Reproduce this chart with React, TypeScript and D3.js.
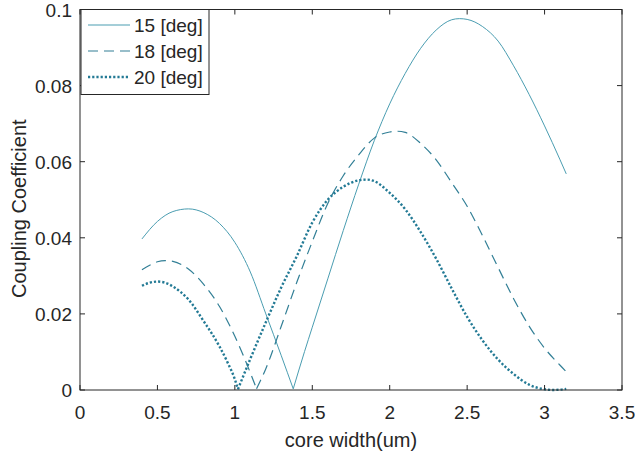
import * as d3 from 'd3'
import { useMemo } from 'react'

const W = 635
const H = 456
const margin = { left: 80, right: 13, top: 9.5, bottom: 66 }

const seriesNames = ['15 [deg]', '18 [deg]', '20 [deg]']

const x15 = [0.4, 0.5, 0.6, 0.7, 0.8, 0.9, 1.0, 1.1, 1.2, 1.3, 1.377, 1.45, 1.5, 1.6, 1.7, 1.8, 1.9, 2.0, 2.1, 2.2, 2.3, 2.4, 2.45, 2.5, 2.6, 2.7, 2.8, 2.9, 3.0, 3.1, 3.14]
const y15 = [0.0397, 0.0443, 0.0469, 0.0476, 0.0466, 0.0438, 0.0388, 0.031, 0.02, 0.009, 0.0003, 0.0101, 0.0165, 0.0292, 0.0419, 0.0541, 0.0655, 0.0752, 0.0832, 0.0898, 0.0946, 0.0973, 0.0976, 0.0974, 0.0955, 0.0917, 0.0852, 0.0777, 0.0694, 0.0605, 0.0568]

const x18 = [0.4, 0.45, 0.5, 0.55, 0.6, 0.7, 0.8, 0.9, 1.0, 1.1, 1.14, 1.2, 1.3, 1.4, 1.5, 1.6, 1.7, 1.8, 1.9, 2.0, 2.05, 2.1, 2.2, 2.3, 2.4, 2.5, 2.6, 2.7, 2.8, 2.9, 3.0, 3.1, 3.14]
const y18 = [0.0316, 0.0328, 0.0337, 0.034, 0.0338, 0.0318, 0.0277, 0.022, 0.0141, 0.0045, 0.0003, 0.0056, 0.0168, 0.0283, 0.039, 0.049, 0.0563, 0.0618, 0.0662, 0.0678, 0.068, 0.0677, 0.0648, 0.0605, 0.0545, 0.0483, 0.0405, 0.0322, 0.024, 0.0168, 0.011, 0.0065, 0.0048]

const x20 = [0.4, 0.45, 0.5, 0.55, 0.6, 0.7, 0.8, 0.9, 0.95, 1.0, 1.02, 1.1, 1.2, 1.3, 1.4, 1.5, 1.6, 1.7, 1.8, 1.85, 1.9, 2.0, 2.1, 2.2, 2.3, 2.4, 2.5, 2.6, 2.7, 2.8, 2.9, 3.0, 3.05, 3.1, 3.14]
const y20 = [0.0274, 0.0282, 0.0285, 0.0282, 0.0272, 0.0238, 0.018, 0.0115, 0.0075, 0.0028, 0.0002, 0.0082, 0.0178, 0.027, 0.0352, 0.044, 0.05, 0.0534, 0.0551, 0.0553, 0.0549, 0.0518, 0.0475, 0.0415, 0.0345, 0.0267, 0.0192, 0.013, 0.008, 0.0042, 0.0014, 0.0002, 0, 0.0001, 0.0003]

// x of the sharp minimum of each curve
const cusps = [1.377, 1.14, 1.02]

const xTicks = [0, 0.5, 1, 1.5, 2, 2.5, 3, 3.5]
const yTicks = [0, 0.02, 0.04, 0.06, 0.08, 0.1]

const styles = [
  { color: '#4a9db1', width: 1, dash: 'none' },
  { color: '#327f96', width: 1.2, dash: '10,6' },
  { color: '#237a95', width: 2.4, dash: '2.2,2' },
]

const axisColor = '#262626'
const font = 'Liberation Sans, Arial, sans-serif'

export default function App() {
  const x = d3.scaleLinear().domain([0, 3.5]).range([margin.left, W - margin.right])
  const y = d3.scaleLinear().domain([0, 0.1]).range([H - margin.bottom, margin.top])

  const paths = useMemo(() => {
    const line = d3
      .line<[number, number]>()
      .x(d => x(d[0]))
      .y(d => y(d[1]))
      .curve(d3.curveMonotoneX)
    const all = [
      [x15, y15],
      [x18, y18],
      [x20, y20],
    ]
    // split at the cusp so the V stays sharp
    return all.map(([xs, ys], i) => {
      const pts = xs.map((v, j) => [v, ys[j]] as [number, number])
      const k = xs.indexOf(cusps[i])
      return [line(pts.slice(0, k + 1)), line(pts.slice(k))]
    })
  }, [])

  const x0 = margin.left
  const x1 = W - margin.right
  const y0 = H - margin.bottom
  const y1 = margin.top
  const tickLen = 5

  return (
    <svg width={W} height={H} style={{ position: 'absolute', left: 0, top: 0, background: 'white' }}>
      <rect x={x0} y={y1} width={x1 - x0} height={y0 - y1} fill="white" />

      <g>
        {paths.map((p, i) =>
          p.map((d, j) => (
            <path
              key={i + '-' + j}
              d={d ?? ''}
              fill="none"
              stroke={styles[i].color}
              strokeWidth={styles[i].width}
              strokeDasharray={styles[i].dash}
            />
          ))
        )}
      </g>

      <g stroke={axisColor} strokeWidth={1}>
        <rect x={x0} y={y1} width={x1 - x0} height={y0 - y1} fill="none" />
        {xTicks.map(t => (
          <g key={'xt' + t}>
            <line x1={x(t)} x2={x(t)} y1={y0} y2={y0 - tickLen} />
            <line x1={x(t)} x2={x(t)} y1={y1} y2={y1 + tickLen} />
          </g>
        ))}
        {yTicks.map(t => (
          <g key={'yt' + t}>
            <line x1={x0} x2={x0 + tickLen} y1={y(t)} y2={y(t)} />
            <line x1={x1} x2={x1 - tickLen} y1={y(t)} y2={y(t)} />
          </g>
        ))}
      </g>

      <g fill={axisColor} fontFamily={font} fontSize={19}>
        {xTicks.map(t => (
          <text key={'xl' + t} x={x(t)} y={y0 + 29} textAnchor="middle">
            {String(t)}
          </text>
        ))}
        {yTicks.map(t => (
          <text key={'yl' + t} x={x0 - 8} y={y(t) + 7} textAnchor="end">
            {String(t)}
          </text>
        ))}
      </g>

      <text x={(x0 + x1) / 2} y={y0 + 57} textAnchor="middle" fill={axisColor} fontFamily={font} fontSize={20}>
        core width(um)
      </text>
      <text
        transform={`translate(26, ${(y0 + y1) / 2 + 9}) rotate(-90)`}
        textAnchor="middle"
        fill={axisColor}
        fontFamily={font}
        fontSize={20}
      >
        Coupling Coefficient
      </text>

      <g>
        <rect x={81} y={9.5} width={128} height={85} fill="white" stroke={axisColor} strokeWidth={1} />
        {seriesNames.map((name, i) => (
          <g key={name} transform={`translate(0, ${25 + i * 26})`}>
            <line
              x1={88}
              x2={130}
              y1={0}
              y2={0}
              stroke={styles[i].color}
              strokeWidth={styles[i].width}
              strokeDasharray={styles[i].dash}
            />
            <text x={134} y={7} fill={axisColor} fontFamily={font} fontSize={19}>
              {name}
            </text>
          </g>
        ))}
      </g>
    </svg>
  )
}
